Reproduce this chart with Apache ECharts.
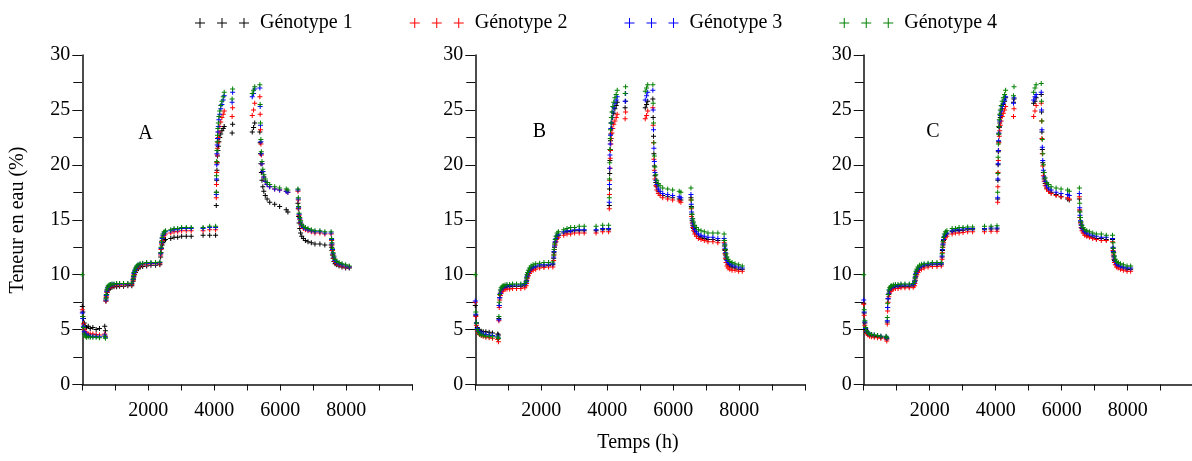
<!DOCTYPE html>
<html>
<head>
<meta charset="utf-8">
<script src="https://cdn.jsdelivr.net/npm/echarts@6/dist/echarts.min.js"></script>
<style>
    html, body { margin: 0; padding: 0; background: #fff; }
    #chart { width: 1192px; height: 461px; }
</style>
</head>
<body>
<div id="chart"></div>
<script>
    // temps de mesure (h), communs aux trois essais
    var temps = [
        0, 15, 35, 60, 90, 130, 180, 240, 320, 420, 520, 680, 700,
        715, 725, 740, 760, 785, 815, 850, 900, 960, 1040, 1130, 1250, 1380, 1500,
        1540, 1550, 1565, 1585, 1610, 1645, 1690, 1750, 1830, 1950, 2080, 2220, 2350,
        2375, 2385, 2400, 2420, 2445, 2480, 2520, 2680, 2780, 2890, 3010, 3150, 3300, 3660, 3860, 4040,
        4060, 4066, 4073, 4080, 4088, 4097, 4108, 4122, 4140, 4165, 4195, 4230, 4270, 4300, 4540, 4555,
        5150, 5190, 5225, 5380, 5390, 5400, 5412, 5426, 5445, 5470, 5500, 5545, 5600, 5680, 5830, 5980, 6180, 6230,
        6535, 6545, 6555, 6570, 6590, 6615, 6650, 6700, 6760, 6840, 6940, 7050, 7200, 7350, 7540,
        7555, 7565, 7580, 7600, 7625, 7660, 7710, 7780, 7870, 7980, 8090
    ];

    var genotypes = ['Génotype 1', 'Génotype 2', 'Génotype 3', 'Génotype 4'];
    var couleurs = ['#000000', '#ff0000', '#0000ff', '#008000'];
    var panneaux = ['A', 'B', 'C'];
    var yTicks = [0, 5, 10, 15, 20, 25, 30];
    var xLabels = [2000, 4000, 6000, 8000];

    // essai A
    var A_g1 = [
        7.1, 6.6, 6.0, 5.6, 5.3, 5.2, 5.3, 5.1, 5.2, 5.0, 5.1, 5.3, 4.9,
        7.6, 7.9, 8.2, 8.4, 8.6, 8.7, 8.8, 8.85, 8.9, 8.9, 8.95, 8.95, 9.0, 9.0,
        9.4, 9.6, 9.8, 10.0, 10.2, 10.4, 10.55, 10.7, 10.75, 10.8, 10.85, 10.85, 10.9,
        11.6, 12.0, 12.4, 12.7, 12.9, 13.1, 13.2, 13.3, 13.4, 13.4, 13.5, 13.5, 13.5, 13.6, 13.6, 13.6,
        16.3, 17.5, 18.6, 19.5, 20.2, 20.8, 21.3, 21.7, 22.1, 22.5, 22.8, 23.1, 23.3, 23.5, 22.9, 23.7,
        23.0, 23.4, 23.8, 23.0, 22.0, 21.0, 20.1, 19.3, 18.6, 18.0, 17.6, 17.2, 16.9, 16.6, 16.4, 16.2, 15.9, 15.7,
        16.5, 16.0, 15.3, 14.7, 14.2, 13.8, 13.5, 13.3, 13.1, 13.0, 12.9, 12.8, 12.8, 12.7, 12.7,
        12.5, 12.2, 11.8, 11.5, 11.2, 11.0, 10.9, 10.8, 10.7, 10.6, 10.6
    ];
    var A_g2 = [
        6.8, 6.2, 5.5, 5.0, 4.8, 4.7, 4.6, 4.6, 4.6, 4.55, 4.5, 4.6, 4.4,
        7.6, 8.0, 8.4, 8.6, 8.8, 8.9, 8.95, 9.0, 9.0, 9.05, 9.05, 9.05, 9.1, 9.1,
        9.5, 9.7, 10.0, 10.2, 10.4, 10.6, 10.75, 10.85, 10.9, 10.95, 11.0, 11.0, 11.0,
        11.8, 12.3, 12.8, 13.1, 13.4, 13.6, 13.7, 13.8, 13.9, 13.9, 14.0, 14.0, 14.0, 14.0, 14.1, 14.1,
        17.0, 18.2, 19.3, 20.2, 20.9, 21.5, 22.0, 22.5, 23.0, 23.5, 23.9, 24.3, 24.6, 24.9, 24.4, 25.2,
        24.5, 25.0, 25.6, 26.2, 24.6, 23.2, 21.9, 20.9, 20.1, 19.4, 18.9, 18.5, 18.2, 18.0, 17.8, 17.7, 17.6, 17.5,
        17.6, 16.8, 16.0, 15.4, 15.0, 14.7, 14.4, 14.2, 14.1, 14.0, 13.9, 13.8, 13.8, 13.7, 13.7,
        13.1, 12.7, 12.2, 11.8, 11.5, 11.2, 11.0, 10.9, 10.8, 10.7, 10.7
    ];
    var A_g3 = [
        6.5, 6.0, 5.3, 4.8, 4.6, 4.5, 4.45, 4.4, 4.4, 4.4, 4.35, 4.5, 4.3,
        7.7, 8.1, 8.5, 8.7, 8.9, 9.0, 9.05, 9.1, 9.1, 9.15, 9.15, 9.15, 9.15, 9.2,
        9.55, 9.8, 10.1, 10.3, 10.5, 10.7, 10.85, 10.95, 11.0, 11.05, 11.05, 11.05, 11.1,
        11.9, 12.4, 12.9, 13.3, 13.6, 13.8, 13.9, 14.0, 14.1, 14.1, 14.2, 14.2, 14.2, 14.2, 14.3, 14.3,
        17.3, 18.7, 20.0, 21.0, 21.8, 22.4, 23.0, 23.5, 24.1, 24.6, 25.1, 25.5, 25.9, 26.3, 25.7, 26.6,
        26.2, 26.5, 26.9, 27.0, 25.3, 23.6, 22.1, 21.0, 20.1, 19.4, 18.9, 18.5, 18.2, 18.0, 17.8, 17.7, 17.6, 17.5,
        17.7, 16.9, 16.1, 15.5, 15.1, 14.8, 14.5, 14.3, 14.2, 14.1, 14.0, 13.9, 13.9, 13.8, 13.8,
        13.2, 12.8, 12.3, 11.9, 11.6, 11.3, 11.1, 11.0, 10.9, 10.8, 10.7
    ];
    var A_g4 = [
        10.0, 6.2, 5.2, 4.6, 4.4, 4.3, 4.35, 4.3, 4.3, 4.3, 4.25, 4.4, 4.2,
        7.8, 8.2, 8.6, 8.8, 9.0, 9.05, 9.1, 9.15, 9.15, 9.2, 9.2, 9.2, 9.2, 9.25,
        9.6, 9.9, 10.2, 10.4, 10.6, 10.8, 10.9, 11.0, 11.05, 11.1, 11.1, 11.1, 11.15,
        12.0, 12.5, 13.0, 13.4, 13.7, 13.9, 14.0, 14.1, 14.2, 14.2, 14.3, 14.3, 14.3, 14.3, 14.4, 14.4,
        17.5, 19.0, 20.3, 21.3, 22.1, 22.7, 23.3, 23.8, 24.4, 24.9, 25.4, 25.8, 26.2, 26.6, 26.0, 26.9,
        26.5, 26.8, 27.1, 27.3, 25.5, 23.8, 22.3, 21.2, 20.3, 19.6, 19.1, 18.7, 18.4, 18.2, 18.0, 17.9, 17.8, 17.7,
        17.8, 17.0, 16.2, 15.6, 15.2, 14.9, 14.6, 14.4, 14.3, 14.2, 14.1, 14.0, 14.0, 13.9, 13.9,
        13.3, 12.9, 12.4, 12.0, 11.7, 11.4, 11.2, 11.1, 11.0, 10.9, 10.8
    ];

    // essai B
    var B_g1 = [
        7.2, 6.3, 5.6, 5.2, 5.0, 4.9, 4.85, 4.8, 4.8, 4.75, 4.7, 4.6, 4.5,
        6.0, 7.2, 7.9, 8.3, 8.5, 8.7, 8.8, 8.85, 8.9, 8.9, 8.95, 8.95, 8.95, 9.0,
        9.2, 9.4, 9.7, 9.9, 10.1, 10.3, 10.5, 10.6, 10.7, 10.8, 10.8, 10.85, 10.9,
        11.5, 12.0, 12.5, 12.9, 13.2, 13.5, 13.6, 13.8, 13.9, 13.9, 14.0, 14.0, 14.0, 14.0, 14.1, 14.1,
        16.3, 17.8, 19.2, 20.4, 21.4, 22.2, 22.8, 23.3, 23.8, 24.3, 24.7, 25.1, 25.4, 25.7, 25.2, 25.8,
        25.2, 25.5, 25.8, 26.0, 24.3, 22.6, 21.0, 19.9, 19.0, 18.4, 18.0, 17.6, 17.4, 17.2, 17.1, 17.0, 16.9, 16.8,
        17.0, 16.2, 15.5, 14.9, 14.5, 14.2, 13.9, 13.7, 13.5, 13.4, 13.3, 13.2, 13.2, 13.1, 13.1,
        12.6, 12.2, 11.8, 11.4, 11.1, 10.9, 10.8, 10.7, 10.6, 10.5, 10.5
    ];
    var B_g2 = [
        7.5, 6.2, 5.4, 4.9, 4.7, 4.55, 4.45, 4.4, 4.3, 4.25, 4.2, 4.1, 3.9,
        5.8, 7.0, 7.7, 8.1, 8.3, 8.5, 8.6, 8.65, 8.7, 8.7, 8.75, 8.75, 8.75, 8.8,
        9.0, 9.2, 9.5, 9.7, 9.9, 10.1, 10.3, 10.4, 10.5, 10.6, 10.65, 10.7, 10.7,
        11.3, 11.8, 12.3, 12.7, 13.0, 13.3, 13.4, 13.6, 13.7, 13.7, 13.8, 13.8, 13.8, 13.8, 13.9, 13.9,
        16.0, 17.3, 18.6, 19.7, 20.6, 21.3, 21.9, 22.4, 22.9, 23.3, 23.7, 24.0, 24.3, 24.6, 24.2, 24.8,
        24.2, 24.5, 24.9, 25.2, 23.6, 22.0, 20.5, 19.5, 18.7, 18.1, 17.7, 17.4, 17.2, 17.0, 16.9, 16.8, 16.7, 16.6,
        16.8, 16.0, 15.3, 14.7, 14.3, 14.0, 13.7, 13.5, 13.3, 13.2, 13.1, 13.0, 13.0, 12.9, 12.9,
        12.3, 11.9, 11.5, 11.1, 10.8, 10.6, 10.5, 10.4, 10.4, 10.3, 10.3
    ];
    var B_g3 = [
        7.6, 6.4, 5.6, 5.1, 4.9, 4.75, 4.65, 4.6, 4.55, 4.5, 4.45, 4.4, 4.2,
        5.9, 7.2, 7.9, 8.3, 8.6, 8.8, 8.9, 8.95, 9.0, 9.0, 9.05, 9.05, 9.05, 9.1,
        9.3, 9.5, 9.8, 10.0, 10.2, 10.4, 10.6, 10.7, 10.8, 10.9, 10.9, 10.95, 11.0,
        11.6, 12.1, 12.6, 13.0, 13.3, 13.6, 13.7, 13.9, 14.0, 14.0, 14.1, 14.1, 14.1, 14.1, 14.2, 14.2,
        16.6, 18.2, 19.7, 20.9, 21.9, 22.7, 23.3, 23.8, 24.3, 24.8, 25.2, 25.6, 25.9, 26.2, 25.8, 26.5,
        25.9, 26.3, 26.6, 26.8, 25.0, 23.2, 21.5, 20.3, 19.3, 18.6, 18.2, 17.8, 17.6, 17.4, 17.3, 17.2, 17.1, 17.0,
        17.3, 16.4, 15.7, 15.1, 14.7, 14.4, 14.1, 13.9, 13.7, 13.6, 13.5, 13.4, 13.4, 13.3, 13.3,
        12.8, 12.4, 12.0, 11.6, 11.3, 11.1, 11.0, 10.9, 10.8, 10.7, 10.6
    ];
    var B_g4 = [
        10.0, 6.6, 5.6, 5.0, 4.8, 4.6, 4.5, 4.45, 4.4, 4.4, 4.35, 4.3, 4.2,
        6.2, 7.5, 8.2, 8.6, 8.8, 8.95, 9.0, 9.05, 9.1, 9.1, 9.15, 9.15, 9.15, 9.2,
        9.4, 9.7, 10.0, 10.2, 10.4, 10.6, 10.8, 10.9, 11.0, 11.05, 11.1, 11.1, 11.15,
        11.8, 12.3, 12.8, 13.2, 13.5, 13.8, 13.9, 14.1, 14.2, 14.3, 14.3, 14.4, 14.4, 14.4, 14.5, 14.5,
        17.0, 18.7, 20.2, 21.4, 22.4, 23.2, 23.8, 24.3, 24.8, 25.3, 25.7, 26.1, 26.4, 26.8, 26.5, 27.1,
        26.7, 27.0, 27.3, 27.3, 25.6, 23.8, 22.0, 20.8, 19.8, 19.1, 18.6, 18.3, 18.1, 17.9, 17.8, 17.7, 17.6, 17.5,
        17.9, 16.8, 16.1, 15.5, 15.1, 14.8, 14.5, 14.3, 14.1, 14.0, 13.9, 13.8, 13.8, 13.8, 13.7,
        13.1, 12.7, 12.3, 11.9, 11.6, 11.4, 11.2, 11.1, 11.0, 10.9, 10.8
    ];

    // essai C
    var C_g1 = [
        7.4, 6.5, 5.6, 5.0, 4.75, 4.6, 4.5, 4.45, 4.4, 4.35, 4.3, 4.25, 4.15,
        5.7, 7.0, 7.8, 8.2, 8.5, 8.7, 8.8, 8.85, 8.9, 8.9, 8.95, 8.95, 8.95, 9.0,
        9.2, 9.4, 9.7, 10.0, 10.2, 10.4, 10.6, 10.7, 10.8, 10.85, 10.9, 10.9, 10.95,
        11.6, 12.2, 12.7, 13.1, 13.4, 13.6, 13.7, 13.9, 14.0, 14.0, 14.05, 14.1, 14.1, 14.1, 14.15, 14.15,
        16.9, 18.6, 20.0, 21.2, 22.1, 22.8, 23.4, 23.8, 24.3, 24.7, 25.1, 25.5, 25.8, 26.1, 25.7, 26.0,
        25.6, 25.8, 26.1, 26.4, 24.8, 23.0, 21.4, 20.2, 19.3, 18.7, 18.3, 17.9, 17.7, 17.5, 17.3, 17.1, 16.9, 16.8,
        16.9, 15.8, 15.2, 14.8, 14.5, 14.2, 14.0, 13.8, 13.6, 13.5, 13.4, 13.3, 13.3, 13.2, 13.2,
        12.4, 12.0, 11.6, 11.3, 11.1, 10.9, 10.8, 10.7, 10.6, 10.5, 10.5
    ];
    var C_g2 = [
        7.3, 6.3, 5.4, 4.9, 4.65, 4.5, 4.4, 4.35, 4.3, 4.25, 4.2, 4.15, 3.95,
        5.5, 6.7, 7.5, 8.0, 8.3, 8.5, 8.6, 8.7, 8.75, 8.75, 8.8, 8.8, 8.8, 8.85,
        9.0, 9.2, 9.5, 9.8, 10.0, 10.2, 10.4, 10.5, 10.6, 10.7, 10.75, 10.75, 10.8,
        11.4, 12.0, 12.5, 12.9, 13.2, 13.4, 13.5, 13.7, 13.8, 13.8, 13.85, 13.9, 13.9, 13.9, 13.95, 13.95,
        16.6, 18.0, 19.3, 20.4, 21.3, 22.0, 22.6, 23.1, 23.6, 24.0, 24.4, 24.7, 25.0, 25.3, 24.4, 25.1,
        24.4, 24.9, 25.4, 25.6, 24.0, 22.4, 21.0, 19.9, 19.0, 18.5, 18.1, 17.8, 17.6, 17.4, 17.2, 17.1, 17.0, 16.9,
        17.1, 15.9, 15.2, 14.7, 14.3, 14.0, 13.8, 13.6, 13.5, 13.4, 13.3, 13.2, 13.1, 13.1, 13.0,
        12.2, 11.8, 11.4, 11.1, 10.9, 10.7, 10.6, 10.5, 10.4, 10.3, 10.3
    ];
    var C_g3 = [
        7.7, 6.6, 5.7, 5.1, 4.85, 4.7, 4.6, 4.55, 4.5, 4.45, 4.4, 4.35, 4.2,
        5.8, 7.0, 7.8, 8.3, 8.6, 8.8, 8.9, 8.95, 9.0, 9.0, 9.05, 9.05, 9.05, 9.1,
        9.3, 9.5, 9.8, 10.1, 10.3, 10.5, 10.7, 10.8, 10.9, 10.95, 11.0, 11.0, 11.0,
        11.7, 12.3, 12.8, 13.2, 13.5, 13.7, 13.8, 14.0, 14.1, 14.1, 14.15, 14.2, 14.2, 14.2, 14.25, 14.25,
        17.0, 18.7, 20.1, 21.3, 22.2, 22.9, 23.5, 24.0, 24.5, 24.9, 25.3, 25.6, 25.9, 26.2, 25.6, 26.1,
        25.9, 26.2, 26.4, 26.6, 25.0, 23.2, 21.6, 20.4, 19.5, 18.9, 18.5, 18.1, 17.9, 17.7, 17.5, 17.4, 17.3, 17.2,
        17.4, 16.1, 15.4, 14.9, 14.6, 14.3, 14.1, 13.9, 13.8, 13.7, 13.6, 13.5, 13.4, 13.4, 13.3,
        12.5, 12.1, 11.7, 11.4, 11.2, 11.0, 10.9, 10.8, 10.7, 10.6, 10.6
    ];
    var C_g4 = [
        10.0, 6.8, 5.8, 5.2, 4.9, 4.7, 4.6, 4.55, 4.5, 4.45, 4.4, 4.4, 4.25,
        6.1, 7.4, 8.2, 8.6, 8.8, 8.95, 9.0, 9.05, 9.1, 9.1, 9.15, 9.15, 9.15, 9.2,
        9.4, 9.7, 10.0, 10.3, 10.5, 10.7, 10.85, 10.95, 11.0, 11.05, 11.1, 11.1, 11.1,
        11.9, 12.5, 13.0, 13.4, 13.7, 13.9, 14.0, 14.2, 14.2, 14.3, 14.3, 14.35, 14.35, 14.4, 14.4, 14.45,
        17.5, 19.2, 20.7, 21.9, 22.8, 23.5, 24.1, 24.6, 25.0, 25.4, 25.8, 26.1, 26.4, 26.8, 26.3, 27.1,
        26.6, 27.0, 27.3, 27.4, 25.8, 24.0, 22.3, 21.0, 20.0, 19.3, 18.8, 18.4, 18.2, 18.0, 17.9, 17.8, 17.7, 17.6,
        17.9, 16.5, 15.7, 15.2, 14.8, 14.5, 14.3, 14.1, 14.0, 13.9, 13.8, 13.7, 13.7, 13.6, 13.6,
        12.9, 12.4, 12.0, 11.7, 11.4, 11.2, 11.1, 11.0, 10.9, 10.8, 10.8
    ];

    var essais = [
        [A_g1, A_g2, A_g3, A_g4],
        [B_g1, B_g2, B_g3, B_g4],
        [C_g1, C_g2, C_g3, C_g4]
    ];

    var police = 'Liberation Serif';
    var croix = 'path://M2,0h1v5h-1zM0,2h5v1h-5z';
    var troisCroix = 'path://M4.5,0h1v10h-1zM0,4.5h10v1h-10z' +
        'M26.5,0h1v10h-1zM22,4.5h10v1h-10z' +
        'M48.5,0h1v10h-1zM44,4.5h10v1h-10z';

    // position des trois graphes
    var gauches = [82.3, 475.3, 863.7];

    var grids = [], xAxes = [], yAxes = [], series = [];
    for (var p = 0; p < 3; p++) {
        grids.push({
            left: gauches[p],
            width: 330,
            top: 55,
            height: 329.5,
            outerBoundsMode: 'none'
        });
        xAxes.push({
            type: 'value',
            gridIndex: p,
            min: 0,
            max: 10000,
            interval: 1000,
            axisLine: { show: true, onZero: false, lineStyle: { color: '#111', width: 1.5 } },
            axisTick: { show: true, length: 6, lineStyle: { color: '#111', width: 1 } },
            axisLabel: {
                margin: 16,
                color: '#000',
                fontFamily: police,
                fontSize: 20,
                formatter: function (v) {
                    return xLabels.indexOf(v) >= 0 ? String(v) : '';
                }
            },
            splitLine: { show: false }
        });
        yAxes.push({
            type: 'value',
            gridIndex: p,
            min: yTicks[0],
            max: yTicks[yTicks.length - 1],
            interval: 5,
            axisLine: { show: true, onZero: false, lineStyle: { color: '#111', width: 1.5 } },
            axisTick: { show: true, length: 10, lineStyle: { color: '#111', width: 1 } },
            minorTick: { show: true, splitNumber: 2, length: 9, lineStyle: { color: '#111', width: 1 } },
            axisLabel: { margin: 12, color: '#000', fontFamily: police, fontSize: 20 },
            splitLine: { show: false },
            minorSplitLine: { show: false }
        });
        for (var g = 0; g < 4; g++) {
            var vals = essais[p][g];
            series.push({
                name: genotypes[g],
                type: 'scatter',
                xAxisIndex: p,
                yAxisIndex: p,
                symbol: croix,
                symbolSize: 5,
                itemStyle: { color: couleurs[g], opacity: 1 },
                silent: true,
                data: temps.map(function (t, i) { return [t, vals[i]]; })
            });
        }
    }

    var chart = echarts.init(document.getElementById('chart'));
    chart.setOption({
        animation: false,
        backgroundColor: '#fff',
        legend: {
            data: genotypes,
            left: 'center',
            top: 8,
            icon: troisCroix,
            itemWidth: 54,
            itemHeight: 10,
            itemGap: 57,
            selectedMode: false,
            textStyle: { color: '#000', fontFamily: police, fontSize: 20, padding: [0, 0, 0, 6] }
        },
        grid: grids,
        xAxis: xAxes,
        yAxis: yAxes,
        series: series,
        graphic: [
            { type: 'text', x: 18, y: 220, rotation: Math.PI / 2,
              style: { text: 'Teneur en eau (%)', fill: '#000', font: '20px "Liberation Serif"', align: 'center', verticalAlign: 'middle' } },
            { type: 'text', x: 638, y: 443,
              style: { text: 'Temps (h)', fill: '#000', font: '20px "Liberation Serif"', align: 'center', verticalAlign: 'middle' } },
            { type: 'text', x: 145.5, y: 134,
              style: { text: panneaux[0], fill: '#000', font: '20px "Liberation Serif"', align: 'center', verticalAlign: 'middle' } },
            { type: 'text', x: 539.5, y: 132,
              style: { text: panneaux[1], fill: '#000', font: '20px "Liberation Serif"', align: 'center', verticalAlign: 'middle' } },
            { type: 'text', x: 933, y: 132,
              style: { text: panneaux[2], fill: '#000', font: '20px "Liberation Serif"', align: 'center', verticalAlign: 'middle' } }
        ]
    });
</script>
</body>
</html>
